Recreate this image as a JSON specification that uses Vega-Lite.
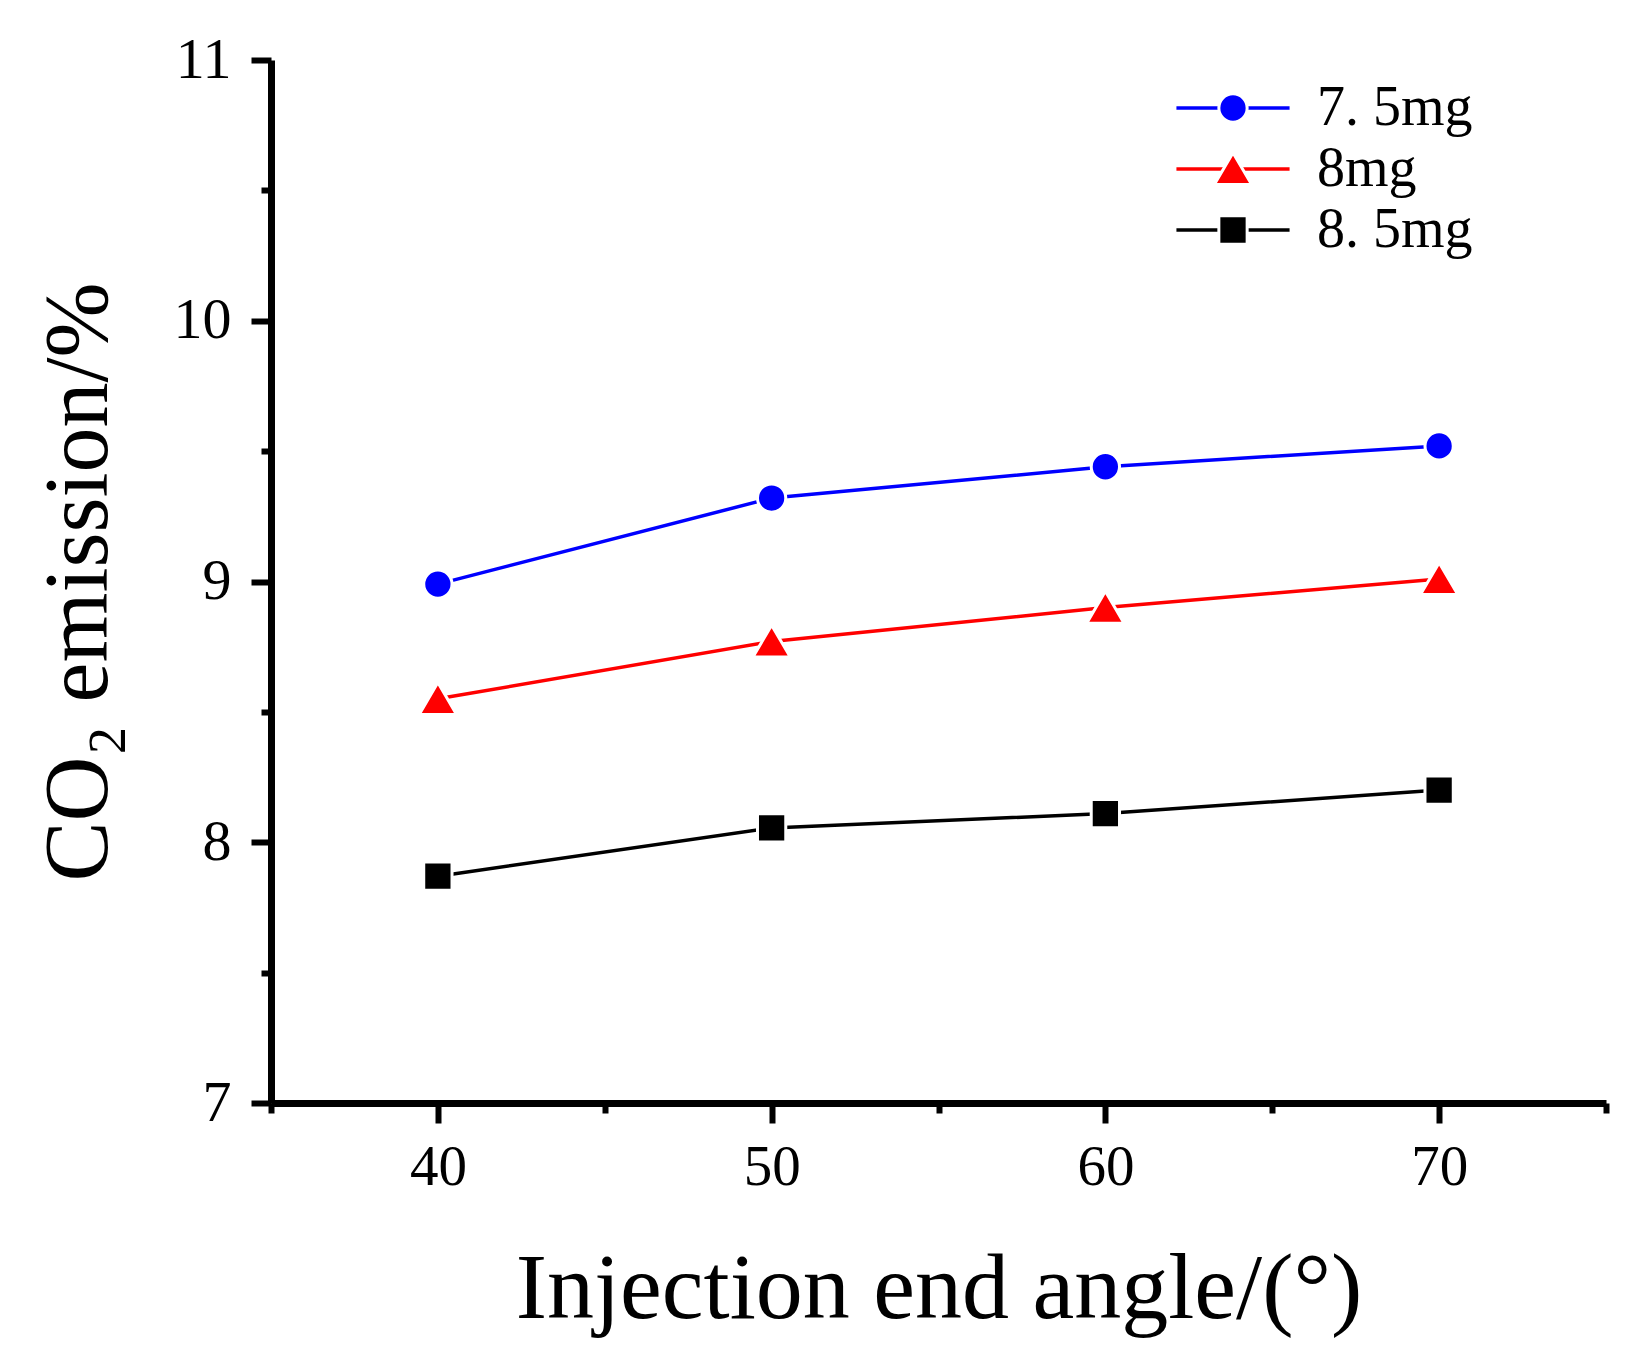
{
  "$schema": "https://vega.github.io/schema/vega-lite/v6.json",
  "autosize": "none",
  "width": 1335,
  "height": 1043,
  "padding": {"left": 271, "top": 60, "right": 45, "bottom": 261},
  "background": "white",
  "data": {
    "values": [
      {"angle": 40, "co2": 8.99, "series": "7. 5mg"},
      {"angle": 50, "co2": 9.32, "series": "7. 5mg"},
      {"angle": 60, "co2": 9.44, "series": "7. 5mg"},
      {"angle": 70, "co2": 9.52, "series": "7. 5mg"},
      {"angle": 40, "co2": 8.55, "series": "8mg"},
      {"angle": 50, "co2": 8.77, "series": "8mg"},
      {"angle": 60, "co2": 8.90, "series": "8mg"},
      {"angle": 70, "co2": 9.01, "series": "8mg"},
      {"angle": 40, "co2": 7.87, "series": "8. 5mg"},
      {"angle": 50, "co2": 8.055, "series": "8. 5mg"},
      {"angle": 60, "co2": 8.11, "series": "8. 5mg"},
      {"angle": 70, "co2": 8.20, "series": "8. 5mg"}
    ]
  },
  "encoding": {
    "x": {
      "field": "angle",
      "type": "quantitative",
      "scale": {"domain": [35, 75], "nice": false, "zero": false}
    },
    "y": {
      "field": "co2",
      "type": "quantitative",
      "scale": {"domain": [7, 11], "nice": false, "zero": false}
    },
    "color": {
      "field": "series",
      "type": "nominal",
      "scale": {
        "domain": ["7. 5mg", "8mg", "8. 5mg"],
        "range": ["#0000ff", "#ff0000", "#000000"]
      }
    }
  },
  "layer": [
    {
      "mark": {"type": "line", "strokeWidth": 3.5},
      "encoding": {
        "x": {
          "field": "angle",
          "type": "quantitative",
          "axis": {
            "orient": "bottom",
            "values": [40, 50, 60, 70],
            "title": "Injection end angle/(°)",
            "titleFont": "Liberation Serif",
            "titleFontSize": 94,
            "titleFontWeight": "normal",
            "titleColor": "black",
            "titlePadding": 48,
            "labelFont": "Liberation Serif",
            "labelFontSize": 57,
            "labelColor": "black",
            "labelPadding": 16,
            "tickSize": 20,
            "tickWidth": 6,
            "tickColor": "black",
            "domainColor": "black",
            "domainWidth": 7,
            "grid": false
          }
        },
        "y": {
          "field": "co2",
          "type": "quantitative",
          "axis": {
            "orient": "left",
            "values": [7, 8, 9, 10, 11],
            "title": "CO₂ emission/%",
            "titleFont": "Liberation Serif",
            "titleFontSize": 90,
            "titleFontWeight": "normal",
            "titleColor": "black",
            "titlePadding": 48,
            "labelFont": "Liberation Serif",
            "labelFontSize": 58,
            "labelColor": "black",
            "labelPadding": 20,
            "tickSize": 20,
            "tickWidth": 6,
            "tickColor": "black",
            "domainColor": "black",
            "domainWidth": 7,
            "grid": false
          }
        },
        "color": {
          "field": "series",
          "type": "nominal",
          "legend": {
            "orient": "none",
            "legendX": 934,
            "legendY": 20,
            "title": null,
            "padding": 0,
            "symbolType": "M-4,0H4",
            "symbolSize": 800,
            "symbolStrokeWidth": 3.5,
            "symbolFillColor": "transparent",
            "labelFont": "Liberation Serif",
            "labelFontSize": 56,
            "labelColor": "black",
            "labelLimit": 0,
            "labelOffset": 56,
            "rowPadding": 5
          }
        }
      }
    },
    {
      "mark": {"type": "point", "filled": true, "opacity": 1, "size": 800, "stroke": "white", "strokeWidth": 3},
      "encoding": {
        "x": {
          "field": "angle",
          "type": "quantitative",
          "axis": {
            "orient": "bottom",
            "values": [35, 45, 55, 65, 75],
            "labels": false,
            "domain": false,
            "title": null,
            "tickSize": 10,
            "tickWidth": 6,
            "tickColor": "black",
            "grid": false
          }
        },
        "y": {
          "field": "co2",
          "type": "quantitative",
          "axis": {
            "orient": "left",
            "values": [7.5, 8.5, 9.5, 10.5],
            "labels": false,
            "domain": false,
            "title": null,
            "tickSize": 10,
            "tickWidth": 6,
            "tickColor": "black",
            "grid": false
          }
        },
        "shape": {
          "field": "series",
          "type": "nominal",
          "scale": {
            "domain": ["7. 5mg", "8mg", "8. 5mg"],
            "range": ["circle", "M0,-1.15L1.32,1.1L-1.32,1.1Z", "square"]
          }
        },
        "color": {
          "field": "series",
          "type": "nominal",
          "legend": {
            "orient": "none",
            "legendX": 934,
            "legendY": 20,
            "title": null,
            "padding": 0,
            "symbolSize": 800,
            "symbolStrokeColor": "white",
            "symbolStrokeWidth": 3,
            "symbolOpacity": 1,
            "labelFont": "Liberation Serif",
            "labelFontSize": 56,
            "labelLimit": 0,
            "labelOpacity": 0,
            "labelOffset": 56,
            "rowPadding": 5
          }
        }
      }
    }
  ],
  "resolve": {
    "axis": {"x": "independent", "y": "independent"},
    "legend": {"color": "independent", "shape": "independent"}
  },
  "config": {
    "view": {"stroke": null},
    "axis": {"labelFlush": false}
  }
}
